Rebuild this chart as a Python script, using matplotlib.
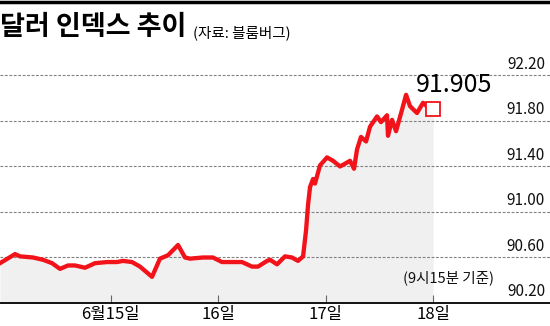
import matplotlib.pyplot as plt
from matplotlib.transforms import blended_transform_factory

# dollar index, June 14 (late) .. June 18 09:15, x in days of June
days = [13.972, 14.112, 14.158, 14.279, 14.372, 14.456, 14.530, 14.605, 14.670,
        14.763, 14.856, 14.967, 15.060, 15.116, 15.200, 15.274, 15.386, 15.460,
        15.535, 15.628, 15.693, 15.740, 15.860, 15.953, 16.037, 16.130, 16.223,
        16.316, 16.372, 16.456, 16.484, 16.549, 16.623, 16.688, 16.744, 16.791,
        16.819, 16.837, 16.856, 16.884, 16.902, 16.949, 17.014, 17.070, 17.135,
        17.228, 17.265, 17.293, 17.330, 17.377, 17.414, 17.479, 17.516, 17.572,
        17.581, 17.619, 17.656, 17.712, 17.749, 17.786, 17.851, 17.907, 17.953,
        18.0]
index = [90.55, 90.63, 90.61, 90.60, 90.58, 90.55, 90.50, 90.53, 90.53,
         90.51, 90.55, 90.56, 90.56, 90.57, 90.56, 90.52, 90.43, 90.59,
         90.62, 90.71, 90.60, 90.59, 90.60, 90.60, 90.56, 90.56, 90.56,
         90.52, 90.52, 90.57, 90.58, 90.54, 90.61, 90.60, 90.57, 90.61,
         90.84, 91.06, 91.22, 91.29, 91.25, 91.41, 91.48, 91.45, 91.40,
         91.45, 91.38, 91.55, 91.66, 91.62, 91.75, 91.84, 91.79, 91.85,
         91.67, 91.81, 91.71, 91.90, 92.03, 91.93, 91.87, 91.96, 91.92,
         91.905]
last_value = 91.905

y_ticks = [90.20, 90.60, 91.00, 91.40, 91.80, 92.20]
x_ticks = [15, 16, 17, 18]
x_labels = ['6월15일', '16일', '17일', '18일']

narrow = ['Liberation Sans Narrow', 'Noto Sans CJK KR', 'DejaVu Sans']
plt.rcParams['font.family'] = narrow

fig = plt.figure(figsize=(5.5, 3.26), dpi=100)
ax = fig.add_axes([0, 23 / 326, 1, 243 / 326])

red = '#f2121a'
ax.fill_between(days, index, 90.2, color='#f0f0f0', lw=0, zorder=1)
ax.plot(days, index, color=red, lw=3.1, solid_joinstyle='round', zorder=3)
ax.plot([days[-1]], [last_value], marker='s', ms=9.5, mfc='white', mec=red,
        mew=1.3, zorder=4)

for v in y_ticks[1:]:
    ax.axhline(v, color='#808080', lw=0.8, ls=(0, (2.5, 1.5)), zorder=2)

ax.set_xlim(13.972, 19.088)
ax.set_ylim(90.2, 92.336)

trans = blended_transform_factory(ax.transAxes, ax.transData)
for v in y_ticks:
    ax.annotate(f'{v:.2f}', (545 / 550, v), xycoords=trans, xytext=(0, 2),
                textcoords='offset points', ha='right', va='bottom',
                fontsize=11, color='#111111')

ax.annotate(f'{last_value}', (days[-1], last_value), xytext=(-12, 8),
            textcoords='offset points', ha='left', va='bottom', fontsize=18,
            color='black')
ax.text(17.72, 90.42, '(9시15분 기준)', fontsize=10.5, ha='left', va='center',
        color='#111111')

for s in ['top', 'left', 'right']:
    ax.spines[s].set_visible(False)
ax.spines['bottom'].set_linewidth(1.3)
ax.set_yticks([])
ax.set_xticks(x_ticks)
ax.set_xticklabels(x_labels, fontsize=12)
ax.tick_params(axis='x', direction='in', length=6, width=0.8, color='#666666',
               pad=2)

fig.add_artist(plt.Line2D([0, 1], [1 - 1.5 / 326, 1 - 1.5 / 326], color='black',
                          lw=2.5, transform=fig.transFigure))
fig.text(0, 1 - 27 / 326, '달러 인덱스 추이', fontsize=19.5, fontweight='black',
         ha='left', va='center', family=['Noto Sans CJK KR', 'DejaVu Sans'])
fig.text(193 / 550, 1 - 33 / 326, '(자료: 블룸버그)', fontsize=10.5, ha='left',
         va='center', family=narrow)

fig.savefig('out.png', dpi=100)
